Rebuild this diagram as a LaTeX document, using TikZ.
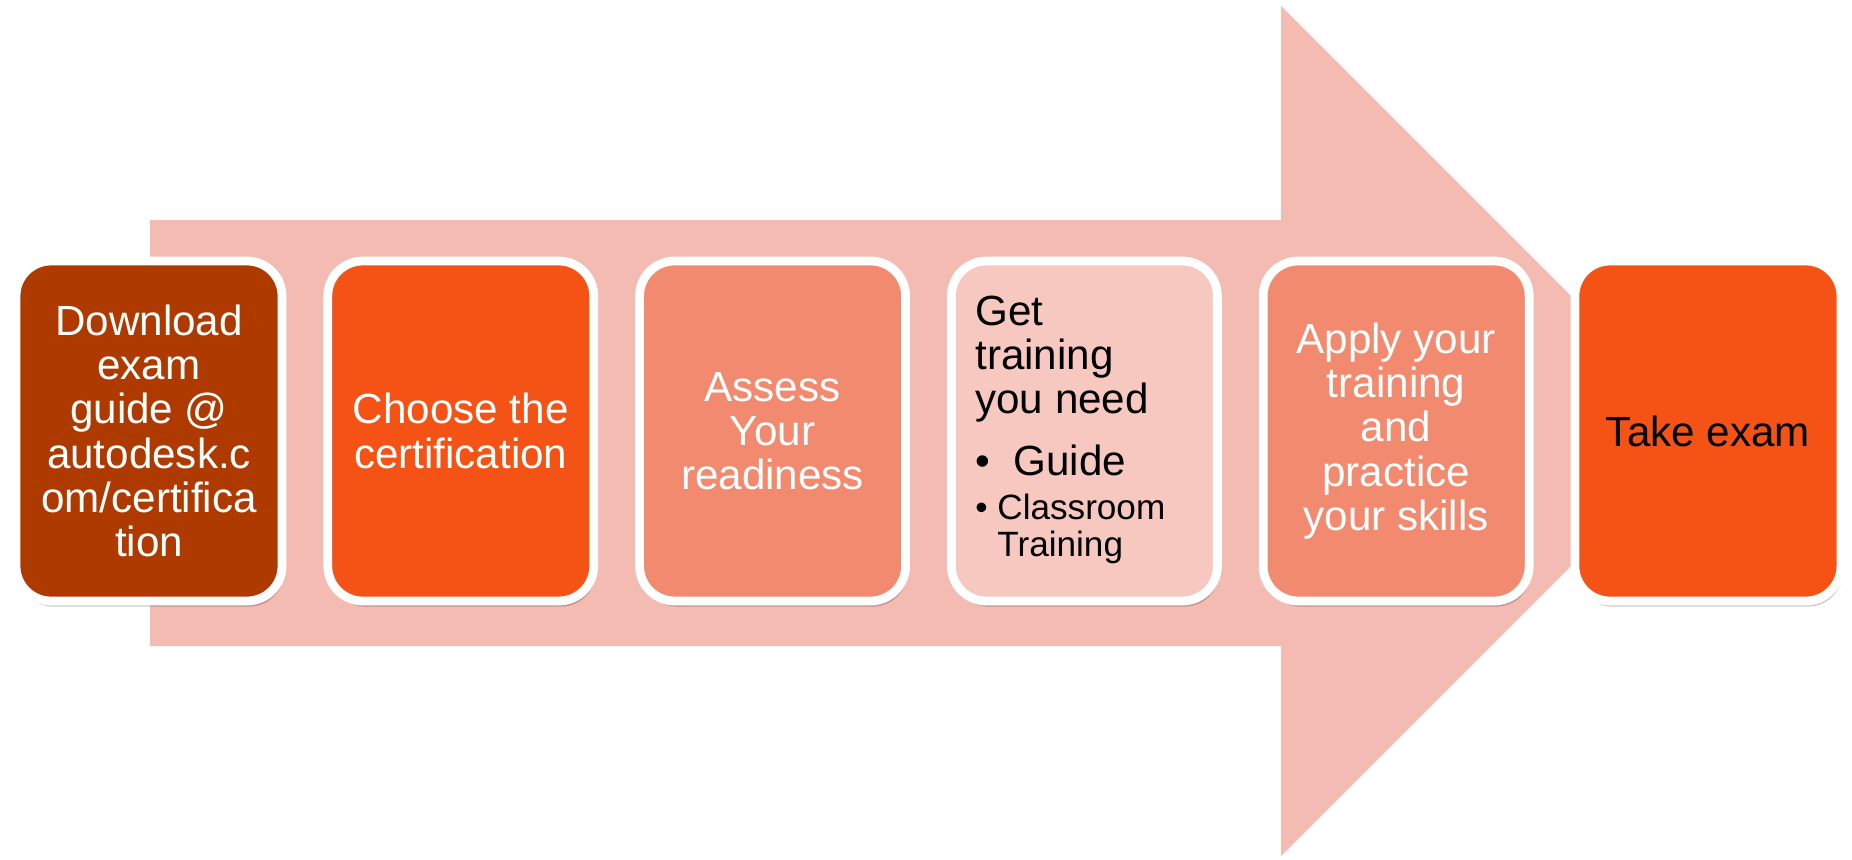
\documentclass[tikz,border=0pt]{standalone}
\usepackage{fontspec}
\setmainfont{Liberation Sans}
\usepackage{tikz}
\usetikzlibrary{positioning}
\usetikzlibrary{shadows}

\definecolor{arrowpink}{HTML}{F4BBB3}
\definecolor{rust}{HTML}{AE3A00}
\definecolor{flame}{HTML}{F55216}
\definecolor{salmon}{HTML}{F28A70}
\definecolor{blush}{HTML}{F7C8C0}

\tikzset{
  stepbox/.style={draw=white, line width=2.5pt, rounded corners=0.35cm,
    minimum width=2.66cm, minimum height=3.40cm, align=center,
    inner sep=2pt, font=\fontsize{12}{12.6}\selectfont,
    drop shadow={shadow xshift=0.6pt, shadow yshift=-1.6pt, fill=black, opacity=0.2}},
}

\begin{document}
\begin{tikzpicture}
    \useasboundingbox (0,0) rectangle (18.52,8.59);

    % Big arrow behind the steps
    \fill[arrowpink] (1.50,6.39) -- (12.81,6.39) -- (12.81,8.53) -- (17.06,4.28)
      -- (12.81,0.03) -- (12.81,2.13) -- (1.50,2.13) -- cycle;

    % Steps
    \node[stepbox, fill=rust, text=white] at (1.49,4.28) (dl)
      {Download\\exam\\guide @\\autodesk.c\\om/certifica\\tion};
    \node[stepbox, fill=flame, text=white, right=0.37cm of dl] (choose)
      {Choose the\\certification};
    \node[stepbox, fill=salmon, text=white, right=0.37cm of choose] (assess)
      {Assess\\Your\\readiness};
    \node[stepbox, fill=blush, text=black, align=left, right=0.37cm of assess] (train)
      {\begin{tabular}{@{}l@{}}
         Get\\[0pt] training\\[0pt] you need\\[5pt]
         \textbullet\ \ Guide\\[0pt]
         {\fontsize{10}{10.5}\selectfont\textbullet\ \begin{tabular}[t]{@{}l@{}}Classroom\\Training\end{tabular}}
       \end{tabular}\hspace*{0.28cm}};
    \node[stepbox, fill=salmon, text=white, right=0.37cm of train] (apply)
      {Apply your\\training\\and\\practice\\your skills};
    \node[stepbox, fill=flame, text=black, right=0.37cm of apply] (exam)
      {Take exam};
  \end{tikzpicture}
\end{document}
